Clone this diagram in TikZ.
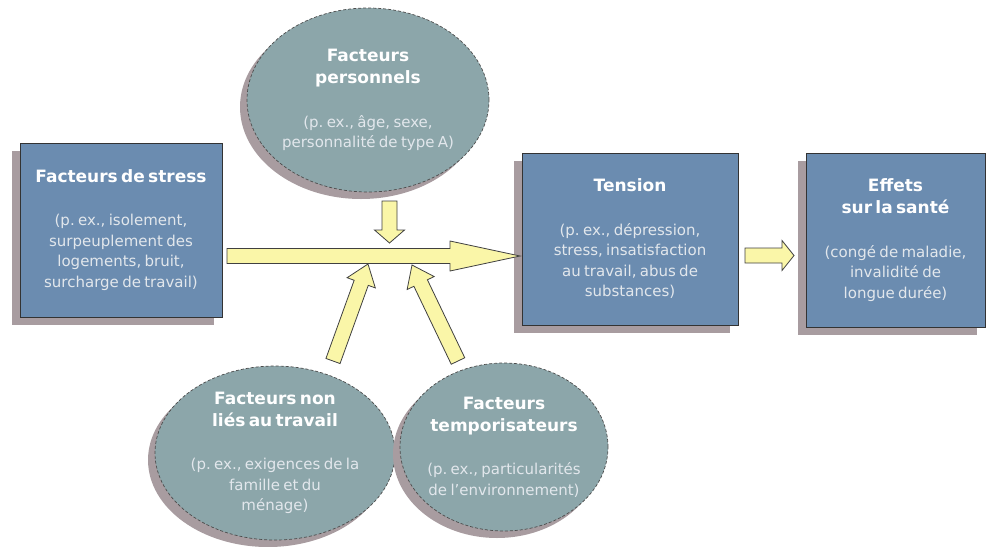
\documentclass[tikz,border=0pt]{standalone}
\usepackage{fontspec}
\setmainfont{DejaVu Sans}
\usetikzlibrary{shapes.geometric,shadows,calc,positioning}

\definecolor{boxblue}{RGB}{107,140,176}
\definecolor{ovalgrey}{RGB}{140,166,170}
\definecolor{shadowgrey}{RGB}{168,156,160}
\definecolor{arrowyellow}{RGB}{250,246,168}
\definecolor{bodytext}{RGB}{226,231,236}

\newcommand{\titlefont}{\fontsize{17}{22}\selectfont\bfseries\color{white}}
\newcommand{\bodyfont}{\fontsize{15}{20.5}\selectfont\color{bodytext}}
\newcommand{\boxtext}[2]{{\titlefont #1\par}\vspace{23pt}{\bodyfont #2\par}}

% yellow block arrow: tail, tip, head length
\newcommand{\blockarrow}[3]{%
  \coordinate (neck) at ($(#2)!#3!(#1)$);
  \draw[fatarrow] ($(#1)!7.5pt!90:(#2)$) -- ($(neck)!7.5pt!90:(#2)$)
    -- ($(neck)!15pt!90:(#2)$) -- (#2) -- ($(neck)!15pt!-90:(#2)$)
    -- ($(neck)!7.5pt!-90:(#2)$) -- ($(#1)!7.5pt!-90:(#2)$) -- cycle;}

\begin{document}
\begin{tikzpicture}[x=1pt,y=-1pt,
    box/.style={rectangle, draw=black!80, line width=0.7pt, fill=boxblue, inner sep=0pt,
      align=center, drop shadow={shadow xshift=-8pt, shadow yshift=-8pt, fill=shadowgrey, opacity=1}},
    oval/.style={ellipse, draw=black!70, densely dashed, line width=0.7pt, fill=ovalgrey, inner sep=0pt,
      drop shadow={shadow xshift=-7pt, shadow yshift=-7pt, fill=shadowgrey, opacity=1}},
    ovaltext/.style={align=center, text width=230pt, inner sep=0pt},
    fatarrow/.style={fill=arrowyellow, draw=black!75, line width=0.8pt, line join=miter}]

  \useasboundingbox (0,0) rectangle (990,546);

  % boxes
  \node[box, text width=202pt, minimum height=174pt] (stress) at (121,230)
    {\boxtext{Facteurs de stress}{(p.~ex., isolement,\\ surpeuplement des\\ logements, bruit,\\ surcharge de travail)}};
  \node[box, text width=216pt, minimum height=172pt] (tension) at (630,239)
    {\boxtext{Tension}{(p.~ex., dépression,\\ stress, insatisfaction\\ au travail, abus de\\ substances)}};
  \node[box, text width=179pt, minimum height=174pt] (effets) at (895.5,240)
    {\boxtext{Effets\\ sur la santé}{(congé de maladie,\\ invalidité de\\ longue durée)}};

  % ovals
  \node[oval, minimum width=242pt, minimum height=184pt] (perso) at (368,100) {};
  \node[ovaltext] at (perso.center)
    {\boxtext{Facteurs\\ personnels}{(p.~ex., âge, sexe,\\ personnalité de type A)}};
  \node[oval, minimum width=240pt, minimum height=174pt] (horsTravail) at (275,453) {};
  \node[ovaltext] at (horsTravail.center)
    {\boxtext{Facteurs non\\ liés au travail}{(p.~ex., exigences de la\\ famille et du\\ ménage)}};
  \node[oval, minimum width=208pt, minimum height=168pt] (tempo) at (504,447) {};
  \node[ovaltext] at (tempo.center)
    {\boxtext{Facteurs\\ temporisateurs}{(p.~ex., particularités\\ de l'environnement)}};

  % arrow ends
  \coordinate (stressOut) at (227,256);
  \coordinate (tensionIn) at (520,256);
  \coordinate (tensionOut) at (745,255.5);
  \coordinate (effetsIn) at (794,255.5);
  \coordinate (persoOut) at (389.5,201);
  \coordinate (persoIn) at (389.5,243);
  \coordinate (horsOut) at (333,361);
  \coordinate (horsIn) at (368,264);
  \coordinate (tempoOut) at (458,361);
  \coordinate (tempoIn) at (412,265);

  \blockarrow{stressOut}{tensionIn}{70pt}
  \blockarrow{tensionOut}{effetsIn}{12pt}
  \blockarrow{persoOut}{persoIn}{13pt}
  \blockarrow{horsOut}{horsIn}{20pt}
  \blockarrow{tempoOut}{tempoIn}{20pt}
\end{tikzpicture}
\end{document}
